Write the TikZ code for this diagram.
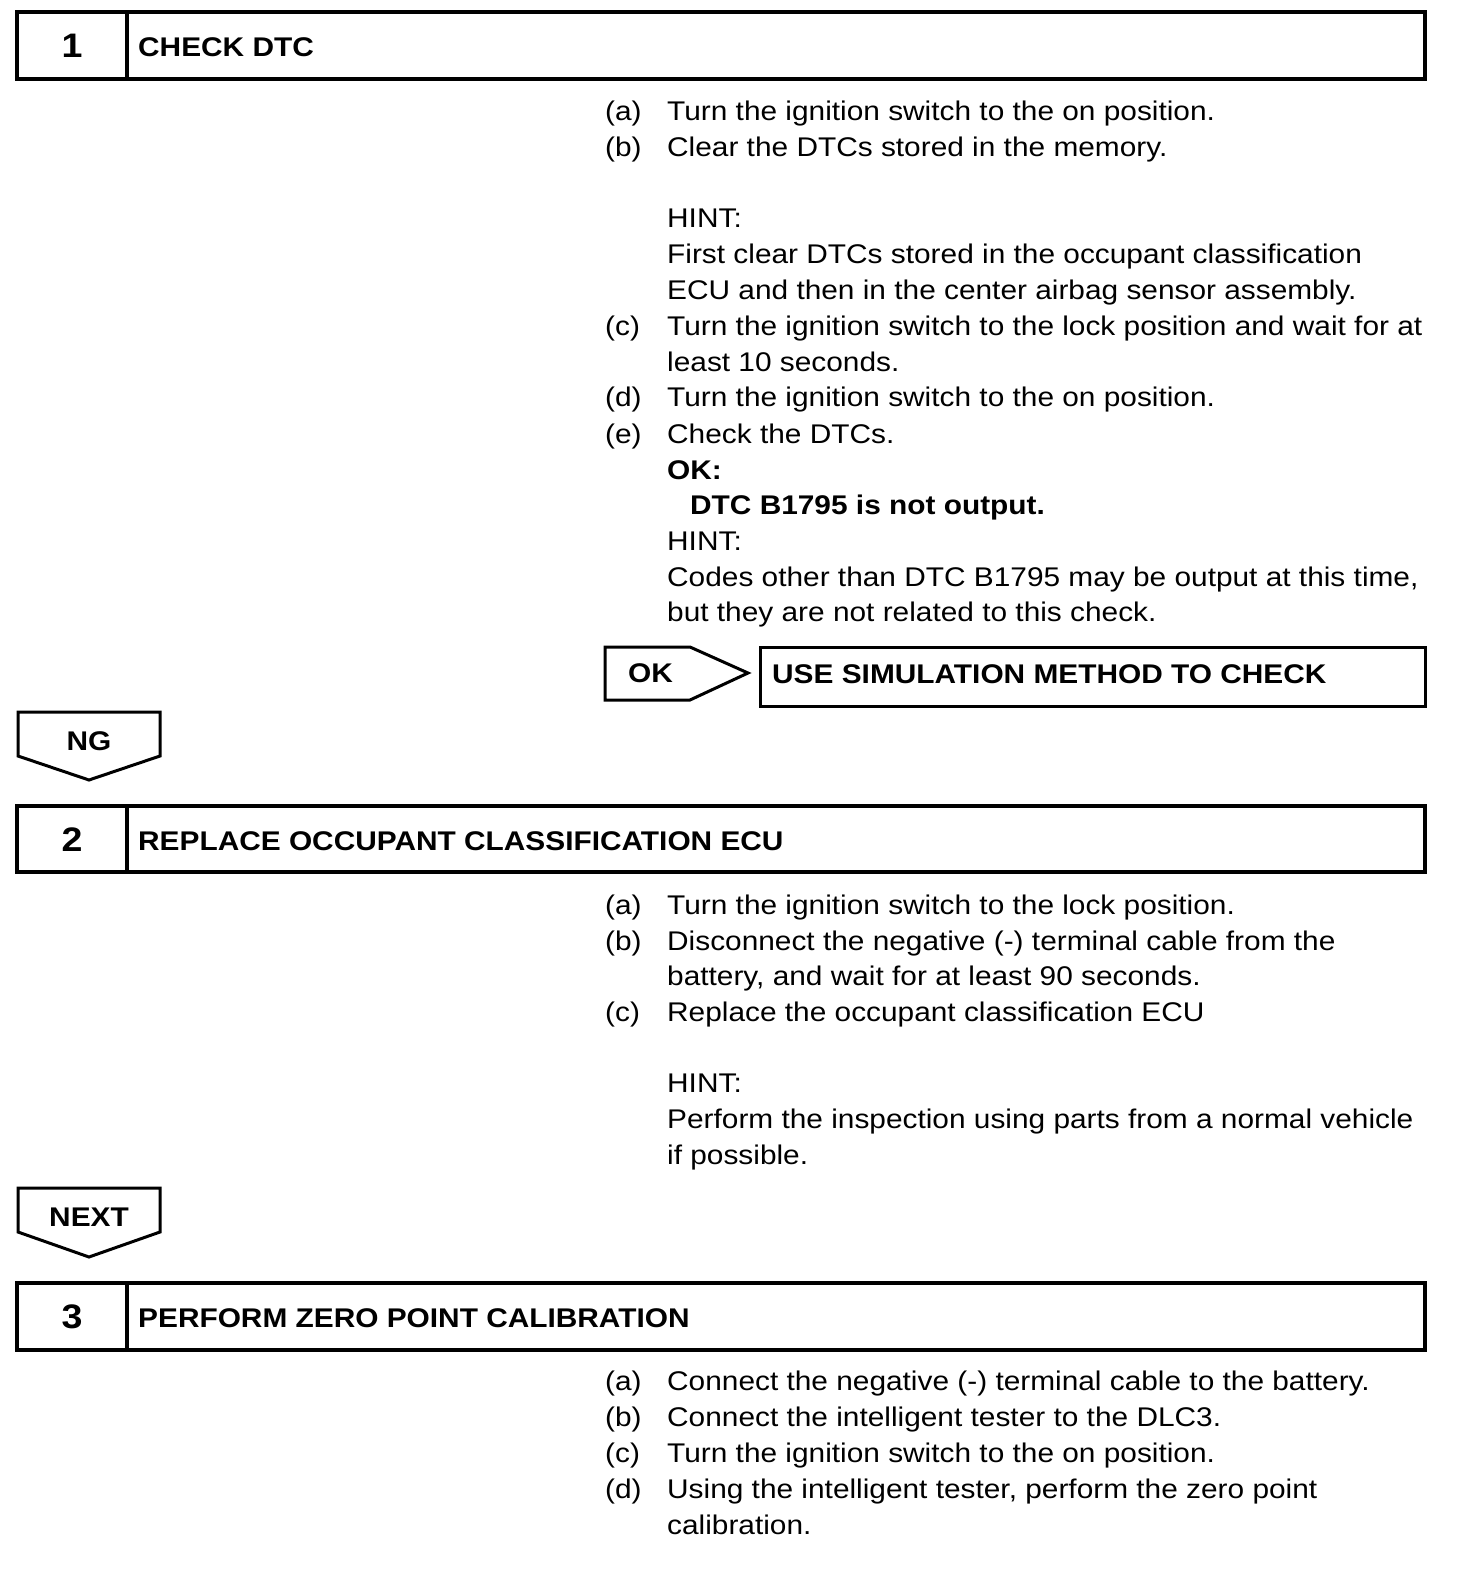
\documentclass[tikz,border=0pt]{standalone}
\usepackage{fontspec}
\setmainfont{Liberation Sans}[FakeStretch=1.105]
\begin{document}
\begin{tikzpicture}[x=1pt,y=-1pt,
  txt/.style={anchor=base west, inner sep=0pt, font=\fontsize{27}{32}\selectfont},
  btxt/.style={anchor=base west, inner sep=0pt, font=\fontsize{27}{32}\selectfont\bfseries},
  ctxt/.style={anchor=base, inner sep=0pt, font=\fontsize{27}{32}\selectfont\bfseries},
  numtxt/.style={anchor=base, inner sep=0pt, font=\fontsize{34}{36}\selectfont\bfseries},
  frame/.style={draw, line width=3.5pt},
  tag/.style={draw, line width=3pt, line join=miter},
]
\useasboundingbox (0,0) rectangle (1472,1580);
\fill[white] (0,0) rectangle (1472,1580);

% ---------- Section 1 ----------
\draw[frame] (17,12) rectangle (1425,79);
\draw[frame] (127,12) -- (127,79);
\node[numtxt] (n1) at (72,57) {1};
\node[btxt] (h1) at (138,56) {CHECK DTC};

\node[txt] (s1a) at (605,120.5) {(a)};
\node[txt] (s1at) at (667,120.5) {Turn the ignition switch to the on position.};
\node[txt] (s1b) at (605,156.5) {(b)};
\node[txt] (s1bt) at (667,156.5) {Clear the DTCs stored in the memory.};
\node[txt] (s1h1) at (667,227.5) {HINT:};
\node[txt] (s1h1a) at (667,263.5) {First clear DTCs stored in the occupant classification};
\node[txt] (s1h1b) at (667,299.5) {ECU and then in the center airbag sensor assembly.};
\node[txt] (s1c) at (605,335.5) {(c)};
\node[txt] (s1ct) at (667,335.5) {Turn the ignition switch to the lock position and wait for at};
\node[txt] (s1ct2) at (667,371.5) {least 10 seconds.};
\node[txt] (s1d) at (605,406.5) {(d)};
\node[txt] (s1dt) at (667,406.5) {Turn the ignition switch to the on position.};
\node[txt] (s1e) at (605,443.5) {(e)};
\node[txt] (s1et) at (667,443.5) {Check the DTCs.};
\node[btxt] (s1ok) at (667,479.5) {OK:};
\node[btxt] (s1okt) at (690,514.5) {DTC B1795 is not output.};
\node[txt] (s1h2) at (667,550.5) {HINT:};
\node[txt] (s1h2a) at (667,586.5) {Codes other than DTC B1795 may be output at this time,};
\node[txt] (s1h2b) at (667,621.5) {but they are not related to this check.};

% OK arrow and result box
\draw[tag] (605,647) -- (690,647) -- (748,673) -- (690,700) -- (605,700) -- cycle;
\node[btxt] (oklbl) at (628,682) {OK};
\draw[line width=3pt] (760,647) rectangle (1425,706);
\node[btxt] (usesim) at (772,683) {USE SIMULATION METHOD TO CHECK};

% NG tag
\draw[tag] (18,712) -- (160,712) -- (160,756) -- (89,780) -- (18,756) -- cycle;
\node[ctxt] (nglbl) at (89,750) {NG};

% ---------- Section 2 ----------
\draw[frame] (17,806) rectangle (1425,872);
\draw[frame] (127,806) -- (127,872);
\node[numtxt] (n2) at (72,851) {2};
\node[btxt] (h2) at (138,850) {REPLACE OCCUPANT CLASSIFICATION ECU};

\node[txt] (s2a) at (605,914.5) {(a)};
\node[txt] (s2at) at (667,914.5) {Turn the ignition switch to the lock position.};
\node[txt] (s2b) at (605,950.5) {(b)};
\node[txt] (s2bt) at (667,950.5) {Disconnect the negative (-) terminal cable from the};
\node[txt] (s2bt2) at (667,985.5) {battery, and wait for at least 90 seconds.};
\node[txt] (s2c) at (605,1021.5) {(c)};
\node[txt] (s2ct) at (667,1021.5) {Replace the occupant classification ECU};
\node[txt] (s2h) at (667,1092.5) {HINT:};
\node[txt] (s2ha) at (667,1128.5) {Perform the inspection using parts from a normal vehicle};
\node[txt] (s2hb) at (667,1164.5) {if possible.};

% NEXT tag
\draw[tag] (18,1188) -- (160,1188) -- (160,1232) -- (89,1257) -- (18,1232) -- cycle;
\node[ctxt] (nextlbl) at (89,1226) {NEXT};

% ---------- Section 3 ----------
\draw[frame] (17,1283) rectangle (1425,1350);
\draw[frame] (127,1283) -- (127,1350);
\node[numtxt] (n3) at (72,1328) {3};
\node[btxt] (h3) at (138,1327) {PERFORM ZERO POINT CALIBRATION};

\node[txt] (s3a) at (605,1390.5) {(a)};
\node[txt] (s3at) at (667,1390.5) {Connect the negative (-) terminal cable to the battery.};
\node[txt] (s3b) at (605,1426.5) {(b)};
\node[txt] (s3bt) at (667,1426.5) {Connect the intelligent tester to the DLC3.};
\node[txt] (s3c) at (605,1462.5) {(c)};
\node[txt] (s3ct) at (667,1462.5) {Turn the ignition switch to the on position.};
\node[txt] (s3d) at (605,1498.5) {(d)};
\node[txt] (s3dt) at (667,1498.5) {Using the intelligent tester, perform the zero point};
\node[txt] (s3dt2) at (667,1534.5) {calibration.};
\end{tikzpicture}
\end{document}
